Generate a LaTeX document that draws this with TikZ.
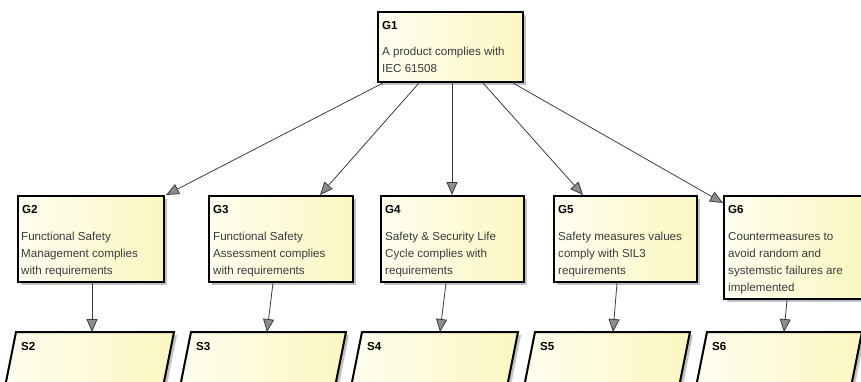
\documentclass[tikz,border=0pt]{standalone}
\usepackage{fontspec}
\setmainfont{Liberation Sans}
\usetikzlibrary{arrows.meta,shadows}

\definecolor{edge}{HTML}{3C3C3C}
\definecolor{headfill}{HTML}{8C8C8C}
\definecolor{bodytext}{HTML}{3A3A3A}
\definecolor{creamL}{HTML}{FFFEF0}
\definecolor{creamR}{HTML}{FBF7C2}

% stacked text lines; the box baseline is the first line's baseline
\newcommand\txtlines[1]{\vtop{\baselineskip=17pt\lineskiplimit=-20pt\halign{##\hfil\cr#1\crcr}}}

\begin{document}
\begin{tikzpicture}[x=1pt,y=-1pt,
  card/.style={draw=black, line width=2pt, left color=creamL, right color=creamR,
    inner sep=0pt,
    drop shadow={shadow xshift=3pt, shadow yshift=-3pt, opacity=0.4, fill=black!60}},
  goal/.style={card, rectangle, anchor=north west, minimum width=#1, minimum height=86pt},
  goal/.default=144pt,
  tag/.style={font=\fontsize{11.6}{13}\selectfont\bfseries, text=black,
    anchor=base west, inner sep=0pt},
  claim/.style={font=\fontsize{11.6}{17}\selectfont, text=bodytext,
    anchor=base west, inner sep=0pt},
  link/.style={draw=edge, line width=0.8pt,
    -{Triangle[length=13pt,width=11pt,fill=headfill]}}
]
\useasboundingbox (0,0) rectangle (861,382);
\clip (0,0) rectangle (861,382);

% strategies (bottom row): slanted boxes, cut by the lower edge
\foreach \n/\x/\w in {S2/16/158, S3/191/155, S4/362/156, S5/535/155, S6/707/155}{
  \path[card] (\x,332) -- ++(\w,0) -- ++(-16,80) -- ++(-\w,0) -- cycle;
  \coordinate (\n-top) at (\x,332);
  \node[tag] (\n) at (\x+5,350) {\n};
}

% top goal
\node[goal, minimum width=145pt, minimum height=70pt] (G1) at (377,11) {};
% sub-goals
\node[goal=146pt] (G2) at (17,195) {};
\node[goal=144pt] (G3) at (208,195) {};
\node[goal=143pt] (G4) at (380,195) {};
\node[goal=143pt] (G5) at (553,195) {};
\node[goal=138pt, minimum height=103pt] (G6) at (723,195) {};

\foreach \g in {G1,G2,G3,G4,G5,G6}
  \node[tag] (\g-tag) at ([xshift=5pt,yshift=-18.5pt]\g.north west) {\g};

\node[claim] (G1b) at ([xshift=5pt,yshift=-45pt]G1.north west)
  {\txtlines{A product complies with\cr IEC 61508}};
\node[claim] (G2b) at ([xshift=4pt,yshift=-45pt]G2.north west)
  {\txtlines{Functional Safety\cr Management complies\cr with requirements}};
\node[claim] (G3b) at ([xshift=5pt,yshift=-45pt]G3.north west)
  {\txtlines{Functional Safety\cr Assessment complies\cr with requirements}};
\node[claim] (G4b) at ([xshift=5pt,yshift=-45pt]G4.north west)
  {\txtlines{Safety \& Security Life\cr Cycle complies with\cr requirements}};
\node[claim] (G5b) at ([xshift=5pt,yshift=-45pt]G5.north west)
  {\txtlines{Safety measures values\cr comply with SIL3\cr requirements}};
\node[claim] (G6b) at ([xshift=5pt,yshift=-45pt]G6.north west)
  {\txtlines{Countermeasures to\cr avoid random and\cr systemstic failures are\cr implemented}};

% decomposition of the top goal
\draw[link] ([xshift=6pt]G1.south west)   -- ([xshift=1pt]G2.north east);
\draw[link] ([xshift=42pt]G1.south west)  -- ([xshift=112pt]G3.north west);
\draw[link] ([xshift=75pt]G1.south west)  -- ([xshift=72pt]G4.north west);
\draw[link] ([xshift=106pt]G1.south west) -- ([xshift=30pt]G5.north west);
\draw[link] ([xshift=136pt]G1.south west) -- ([yshift=-8pt]G6.north west);

% goals supported by strategies
\draw[link] ([xshift=75pt]G2.south west) -- ([xshift=76pt]S2-top);
\draw[link] ([xshift=65pt]G3.south west) -- ([xshift=76pt]S3-top);
\draw[link] ([xshift=66pt]G4.south west) -- ([xshift=78pt]S4-top);
\draw[link] ([xshift=64pt]G5.south west) -- ([xshift=78pt]S5-top);
\draw[link] ([xshift=64pt]G6.south west) -- ([xshift=77pt]S6-top);
\end{tikzpicture}
\end{document}
